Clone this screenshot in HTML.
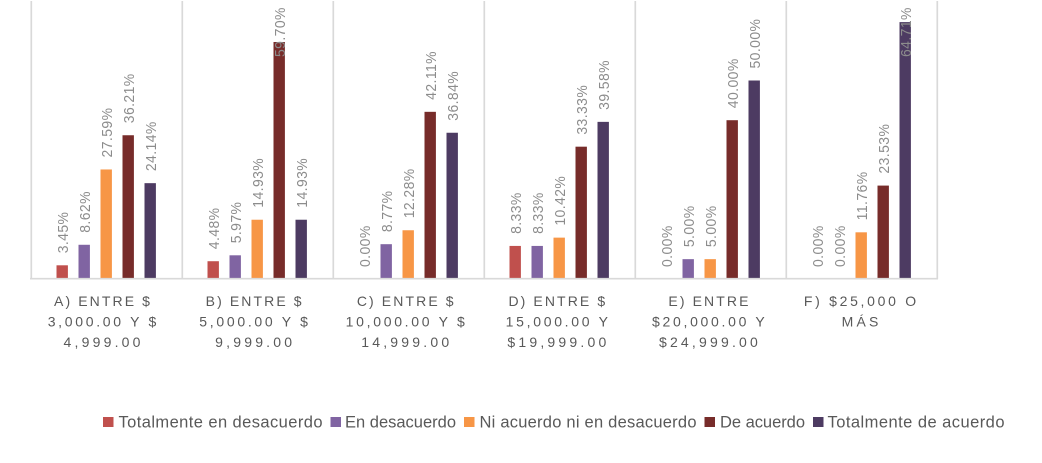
<!DOCTYPE html>
<html lang="es">
<head>
<meta charset="utf-8">
<title>Gráfico de barras por rango de ingreso</title>
<style>
  html, body { margin: 0; padding: 0; background: #ffffff; }
  #chart { display: block; width: 1042px; height: 463px; font-family: "Liberation Sans", sans-serif; }
</style>
</head>
<body>
<svg id="chart" xmlns="http://www.w3.org/2000/svg" width="1042" height="463" viewBox="0 0 1042 463"></svg>
<script>
const categories = [
  ["A) ENTRE $", "3,000.00 Y $", "4,999.00"],
  ["B) ENTRE $", "5,000.00 Y $", "9,999.00"],
  ["C) ENTRE $", "10,000.00 Y $", "14,999.00"],
  ["D) ENTRE $", "15,000.00 Y", "$19,999.00"],
  ["E) ENTRE", "$20,000.00 Y", "$24,999.00"],
  ["F) $25,000 O", "MÁS"]
];
const seriesNames = ["Totalmente en desacuerdo", "En desacuerdo", "Ni acuerdo ni en desacuerdo", "De acuerdo", "Totalmente de acuerdo"];
const totalmenteEnDesacuerdo = [3.45, 4.48, 0.00, 8.33, 0.00, 0.00];
const enDesacuerdo = [8.62, 5.97, 8.77, 8.33, 5.00, 0.00];
const niAcuerdo = [27.59, 14.93, 12.28, 10.42, 5.00, 11.76];
const deAcuerdo = [36.21, 59.70, 42.11, 33.33, 40.00, 23.53];
const totalmenteDeAcuerdo = [24.14, 14.93, 36.84, 39.58, 50.00, 64.71];
const seriesValues = [totalmenteEnDesacuerdo, enDesacuerdo, niAcuerdo, deAcuerdo, totalmenteDeAcuerdo];
const seriesColors = ["#C0504D", "#8064A2", "#F79646", "#772C2A", "#4D3B62"];

const svg = document.getElementById("chart");
const NS = "http://www.w3.org/2000/svg";
const baseY = 279, pxPerUnit = 3.97;
const plotLeft = 31.3, catStep = 151;
const barStep = 22, barWidth = 11.4, firstBarOffset = 25.2;
const labelGap = 12, labelMinBottom = 57;

function yScale(v) { return baseY - v * pxPerUnit; }
function catX(i) { return plotLeft + catStep * i; }
function barX(i, s) { return catX(i) + firstBarOffset + barStep * s; }
function labelCenter(i) { return 102 + 151.6 * i; }
function labelSpacing(text) {
  if (/\.00$/.test(text) || text.length < 4) return 3.2;
  if (/\d/.test(text)) return 2.7;
  return 2.1;
}
function make(tag, attrs) {
  const el = document.createElementNS(NS, tag);
  for (const k in attrs) el.setAttribute(k, attrs[k]);
  return el;
}

// vertical category separators
for (let i = 0; i <= categories.length; i++) {
  const line = make("line", { x1: catX(i), x2: catX(i), y1: 1, y2: 279, stroke: "#D9D9D9", "stroke-width": 1.7 });
  
  
  svg.appendChild(line);
}

// bars
categories.forEach((cat, i) => {
  seriesValues.forEach((vals, s) => {
    const v = vals[i];
    if (v <= 0) return;
    const bar = make("rect", { x: barX(i, s), y: yScale(v), width: barWidth, height: baseY - yScale(v), fill: seriesColors[s] });
    
    
    svg.appendChild(bar);
  });
});

// x axis line
const axis = make("line", { x1: 30, x2: 938, y1: 278.7, y2: 278.7, stroke: "#D9D9D9", "stroke-width": 1.7 });


svg.appendChild(axis);

// data labels
categories.forEach((cat, i) => {
  seriesValues.forEach((vals, s) => {
    const v = vals[i];
    const bottom = Math.max(yScale(v) - labelGap, labelMinBottom);
    const cx = barX(i, s) + barWidth;
    const t = make("text", {
      transform: "translate(" + cx + "," + bottom + ") rotate(-90) scale(0.92,1)",
      "font-size": 15.2, fill: "#8C8C8C", "letter-spacing": 0.45
    });
    t.textContent = v.toFixed(2) + "%";
    
    
    svg.appendChild(t);
  });
});

// category labels
categories.forEach((cat, i) => {
  cat.forEach((lineText, n) => {
    const spacing = labelSpacing(lineText);
    const t = make("text", {
      x: labelCenter(i) + spacing / 2, y: 306 + n * 20.6, "text-anchor": "middle",
      "font-size": 14, fill: "#595959", "letter-spacing": spacing
    });
    t.textContent = lineText;
    
    
    svg.appendChild(t);
  });
});

// legend
let legendX = 103;
const legendGaps = [5, 4, 5, 5, 4];
const legendWidths = [204, 111, 217, 85, 177];
seriesNames.forEach((name, s) => {
  const swatch = make("rect", { x: legendX, y: 417, width: 10.5, height: 10, fill: seriesColors[s] });
  
  
  svg.appendChild(swatch);
  const t = make("text", {
    x: legendX + 10.5 + legendGaps[s], y: 427.5, "font-size": 16.5, fill: "#595959",
    textLength: legendWidths[s], lengthAdjust: "spacing"
  });
  t.textContent = name;
  
  
  svg.appendChild(t);
  legendX += 10.5 + legendGaps[s] + legendWidths[s] + 8;
});
</script>
</body>
</html>
